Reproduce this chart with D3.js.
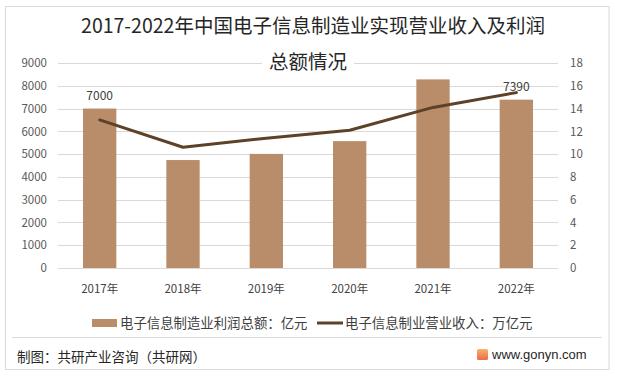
<!DOCTYPE html>
<html><head><meta charset="utf-8">
<script src="https://cdn.jsdelivr.net/npm/d3@7"></script>
<style>html,body{margin:0;padding:0;background:#fff;}svg{display:block;}</style>
</head><body><div id="chart"></div>
<script>
const years = ["2017年","2018年","2019年","2020年","2021年","2022年"];
const profit = [7000, 4740, 5010, 5570, 8280, 7390];      // 亿元
const revenue = [13.0, 10.6, 11.4, 12.1, 14.1, 15.4];     // 万亿元
const leftTicks = [0,1000,2000,3000,4000,5000,6000,7000,8000,9000];
const rightTicks = [0,2,4,6,8,10,12,14,16,18];
const labelIdx = [0, 5];
const titleLines = ["2017-2022年中国电子信息制造业实现营业收入及利润","总额情况"];
const legendNames = ["电子信息制造业利润总额：亿元","电子信息制业营业收入：万亿元"];
const source = "制图：共研产业咨询（共研网）";
const site = "www.gonyn.com";

const W = 619, H = 379;
const font = "'Microsoft YaHei','Noto Sans CJK SC','Noto Sans',sans-serif";
const svg = d3.select("#chart").append("svg").attr("width", W).attr("height", H);

// frame
svg.append("rect").attr("x",5.5).attr("y",6.5).attr("width",603.5).attr("height",363)
  .attr("fill","#fff").attr("stroke","#d9d9d9");

const x = d3.scaleBand().domain(years).range([58,558]).paddingInner(0.6).paddingOuter(0.3);
const yL = d3.scaleLinear().domain([0,9000]).range([268,63]);
const yR = d3.scaleLinear().domain([0,18]).range([268,63]);

// gridlines
svg.append("g").selectAll("line").data(leftTicks).join("line")
  .attr("x1",58).attr("x2",558).attr("y1",d=>Math.round(yL(d))+0.5).attr("y2",d=>Math.round(yL(d))+0.5)
  .attr("stroke","#d9d9d9").attr("stroke-width",1);

// axes
const axL = svg.append("g").attr("transform","translate(58,0)")
  .call(d3.axisLeft(yL).tickValues(leftTicks).tickFormat(d3.format("d")).tickSize(0).tickPadding(11));
const axR = svg.append("g").attr("transform","translate(558,0)")
  .call(d3.axisRight(yR).tickValues(rightTicks).tickFormat(d3.format("d")).tickSize(0).tickPadding(12));
[axL,axR].forEach(a=>{a.select(".domain").remove();
  a.selectAll("text").attr("font-family",font).attr("font-size",11.5).attr("fill","#595959");});

const axB = svg.append("g").attr("transform","translate(0,268)")
  .call(d3.axisBottom(x).tickSize(0).tickPadding(17));
axB.select(".domain").remove();
axB.selectAll("text").attr("font-family",font).attr("font-size",11.5).attr("fill","#404040");

// bars
svg.append("g").selectAll("rect").data(profit).join("rect")
  .attr("x",(d,i)=>x(years[i])).attr("width",x.bandwidth())
  .attr("y",d=>yL(d)).attr("height",d=>yL(0)-yL(d)).attr("fill","#BA8D6A");

// line
const line = d3.line().x((d,i)=>x(years[i])+x.bandwidth()/2).y(d=>yR(d));
svg.append("path").datum(revenue).attr("d",line).attr("fill","none")
  .attr("stroke","#5E4129").attr("stroke-width",3).attr("stroke-linejoin","round").attr("stroke-linecap","round");

// data labels
svg.append("g").selectAll("text").data(labelIdx).join("text")
  .attr("x",i=>x(years[i])+x.bandwidth()/2).attr("y",i=>yL(profit[i])-9)
  .attr("text-anchor","middle").attr("font-family",font).attr("font-size",12).attr("fill","#404040")
  .text(i=>profit[i]);

// title
svg.append("rect").attr("x",262).attr("y",50).attr("width",92).attr("height",24).attr("fill","#fff");
svg.append("text").attr("x",313).attr("y",33).attr("text-anchor","middle").attr("font-family",font)
  .attr("font-size",19.5).attr("fill","#262626").text(titleLines[0]);
svg.append("text").attr("x",308).attr("y",69).attr("text-anchor","middle").attr("font-family",font)
  .attr("font-size",19.5).attr("fill","#262626").text(titleLines[1]);

// legend
const lg = svg.append("g").attr("font-family",font).attr("font-size",13.4).attr("fill","#404040");
lg.append("rect").attr("x",92).attr("y",319).attr("width",25).attr("height",8).attr("fill","#BA8D6A");
lg.append("text").attr("x",120).attr("y",328).text(legendNames[0]);
lg.append("line").attr("x1",317).attr("x2",343).attr("y1",323).attr("y2",323).attr("stroke","#5E4129").attr("stroke-width",3);
lg.append("text").attr("x",345).attr("y",328).text(legendNames[1]);

// footer
svg.append("line").attr("x1",12).attr("x2",602).attr("y1",337.5).attr("y2",337.5).attr("stroke","#d9d9d9");
svg.append("text").attr("x",17).attr("y",362).attr("font-family",font).attr("font-size",13.5).attr("fill","#262626").text(source);
const grad = svg.append("defs").append("linearGradient").attr("id","lg1").attr("x1","0").attr("y1","0").attr("x2","0").attr("y2","1");
grad.append("stop").attr("offset","0").attr("stop-color","#f7b26a");
grad.append("stop").attr("offset","1").attr("stop-color","#ee6a4a");
svg.append("rect").attr("x",477).attr("y",349).attr("width",11).attr("height",11).attr("rx",1.5).attr("fill","url(#lg1)");
svg.append("text").attr("x",492).attr("y",359).attr("font-family","Arial,'Liberation Sans',sans-serif").attr("font-size",13).attr("fill","#262626").text(site);
</script></body></html>
